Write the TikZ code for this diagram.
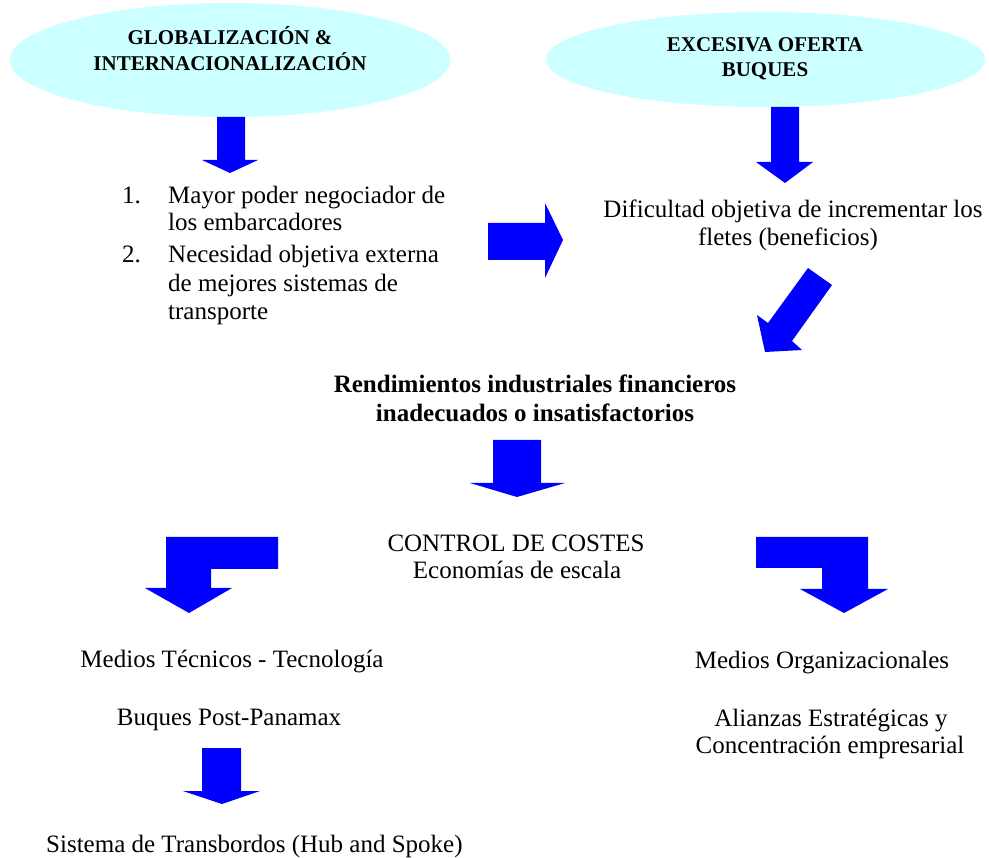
\documentclass[tikz,border=0pt]{standalone}
\usepackage{fontspec}
\setmainfont{Liberation Serif}
\usetikzlibrary{shapes.geometric}
\definecolor{elfill}{HTML}{CCFFFF}
\definecolor{arrblue}{HTML}{0000FF}
\tikzset{
  blk/.style={fill=arrblue, draw=none},
  oval/.style={ellipse, fill=elfill, draw=none, inner sep=0pt},
  body/.style={inner sep=0pt, anchor=base, font=\fontsize{25}{29}\selectfont},
  bodyL/.style={body, anchor=base west},
  hdr/.style={inner sep=0pt, anchor=base, font=\fontsize{21}{25}\selectfont\bfseries},
  bld/.style={inner sep=0pt, anchor=base, font=\fontsize{25}{29}\selectfont\bfseries}
}
\begin{document}
\begin{tikzpicture}[x=1pt,y=-1pt]
\useasboundingbox (0,0) rectangle (989,858);
% ellipses
\node[oval, minimum width=440pt, minimum height=114pt] (e1) at (230,60) {};
\node[oval, minimum width=439pt, minimum height=95pt] (e2) at (765.5,59.5) {};
\node[hdr] (e1a) at (230,45) {GLOBALIZACIÓN \&};
\node[hdr] (e1b) at (230,70.5) {INTERNACIONALIZACIÓN};
\node[hdr] (e2a) at (765,51.5) {EXCESIVA OFERTA};
\node[hdr] (e2b) at (765,77) {BUQUES};
% down arrows under ellipses
\fill[blk] (217,117) -- (245,117) -- (245,160) -- (258,160) -- (230,173) -- (202,160) -- (217,160) -- cycle;
\fill[blk] (771,107) -- (799,107) -- (799,162) -- (813,162) -- (785,183) -- (756,162) -- (771,162) -- cycle;
% list
\node[bodyL] (n1) at (122,204) {1.};
\node[bodyL] (l1) at (168,204) {Mayor poder negociador de};
\node[bodyL] (l2) at (168,231) {los embarcadores};
\node[bodyL] (n2) at (122,263) {2.};
\node[bodyL] (l3) at (168,263) {Necesidad objetiva externa};
\node[bodyL] (l4) at (168,292) {de mejores sistemas de};
\node[bodyL] (l5) at (168,320) {transporte};
% right arrow
\fill[blk] (488,223) -- (545,223) -- (545,203) -- (563,240) -- (545,278) -- (545,260) -- (488,260) -- cycle;
% dificultad
\node[body] (d1) at (793,218) {Dificultad objetiva de incrementar los};
\node[body] (d2) at (788,246) {fletes (beneficios)};
% diagonal arrow
\fill[blk] (808,268) -- (832,285) -- (792,341) -- (802,350) -- (765,352) -- (757,315) -- (768,323) -- cycle;
% rendimientos
\node[bld] (r1) at (535,393) {Rendimientos industriales financieros};
\node[bld] (r2) at (535,422) {inadecuados o insatisfactorios};
% middle arrow
\fill[blk] (493,440) -- (541,440) -- (541,483) -- (565,483) -- (517,497) -- (470,483) -- (493,483) -- cycle;
% control
\node[body] (c1) at (516,552) {CONTROL DE COSTES};
\node[body] (c2) at (517,579) {Economías de escala};
% L arrows
\fill[blk] (166,537) -- (278,537) -- (278,569) -- (211,569) -- (211,588) -- (232,588) -- (189,613) -- (145,588) -- (166,588) -- cycle;
\fill[blk] (756,537) -- (868,537) -- (868,589) -- (888,589) -- (844,613) -- (800,589) -- (822,589) -- (822,568) -- (756,568) -- cycle;
% left column
\node[body] (m1) at (232,667) {Medios Técnicos - Tecnología};
\node[body] (m2) at (229,725) {Buques Post-Panamax};
\fill[blk] (202,748) -- (241,748) -- (241,791) -- (260,791) -- (222,804) -- (183,791) -- (202,791) -- cycle;
\node[bodyL] (s1) at (46,852) {Sistema de Transbordos (Hub and Spoke)};
% right column
\node[body] (o1) at (822,668) {Medios Organizacionales};
\node[body] (o2) at (831,726) {Alianzas Estratégicas y};
\node[body] (o3) at (830,753) {Concentración empresarial};
\end{tikzpicture}
\end{document}
